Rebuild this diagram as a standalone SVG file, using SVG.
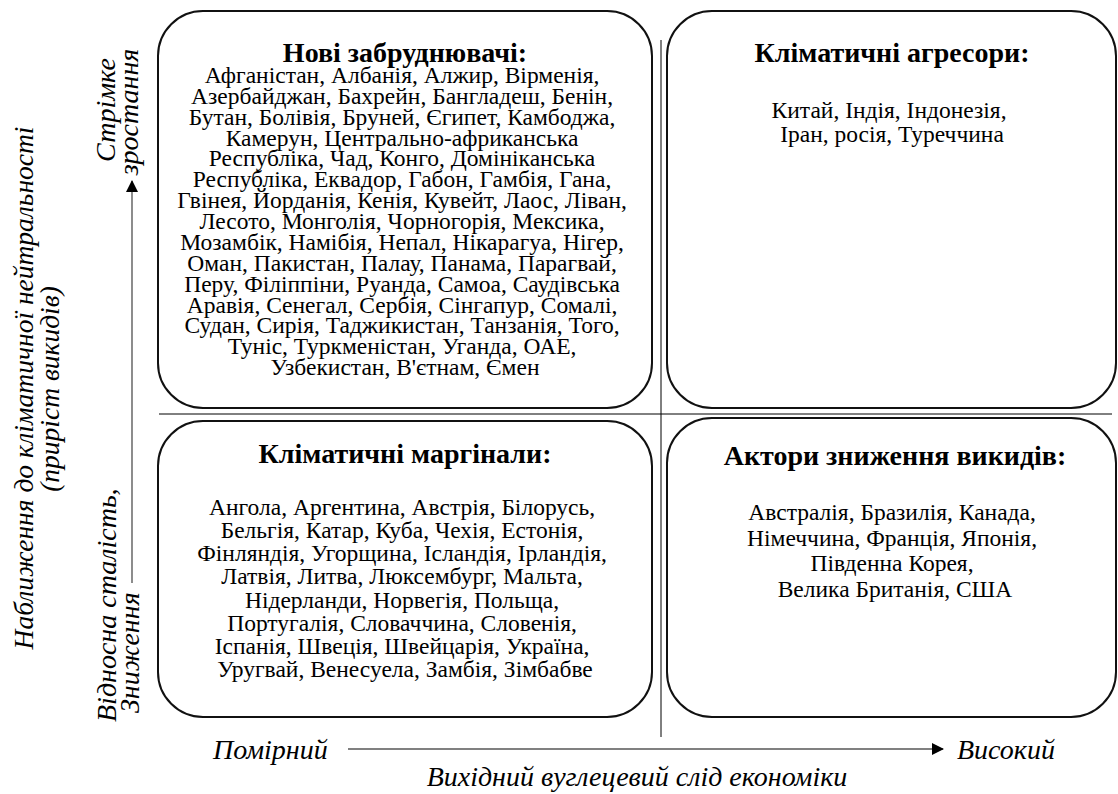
<svg xmlns="http://www.w3.org/2000/svg" width="1118" height="794" viewBox="0 0 1118 794">
<defs>
<style>
text{font-family:'Liberation Serif','Times New Roman',serif;fill:#000}
.box{fill:#fff;stroke:#111;stroke-width:2}
.title{font-size:28px;font-weight:bold;text-anchor:middle}
.body{font-size:23.5px;text-anchor:middle}
.ax{font-style:italic;font-size:28px}
.div{stroke:#000;stroke-width:1;fill:none}
.axis{stroke:#808080;stroke-width:1.8;fill:none}
</style>
<marker id="ah" markerUnits="userSpaceOnUse" markerWidth="12" markerHeight="12" refX="11" refY="6" orient="auto">
<path d="M0,0 L12,6 L0,12 Z" fill="#000"/>
</marker>
</defs>
<rect width="1118" height="794" fill="#fff"/>
<g id="connectors">
<line class="div" x1="661" y1="40" x2="661" y2="737"/>
<line class="div" x1="159" y1="414" x2="1112" y2="414"/>
<line class="axis" x1="132" y1="583" x2="132" y2="181" marker-end="url(#ah)"/>
<line class="axis" x1="348" y1="749" x2="943" y2="749" marker-end="url(#ah)"/>
</g>
<g id="new-polluters">
<rect class="box" x="158" y="11" width="494" height="397" rx="45" ry="45"/>
<text class="title" x="405" y="62">Нові забруднювачі:</text>
<text class="body">
<tspan x="405" y="83">Афганістан, Албанія, Алжир, Вірменія,</tspan>
<tspan x="405" y="103.9">Азербайджан, Бахрейн, Бангладеш, Бенін,</tspan>
<tspan x="405" y="124.7">Бутан, Болівія, Бруней, Єгипет, Камбоджа,</tspan>
<tspan x="405" y="145.6">Камерун, Центрально-африканська</tspan>
<tspan x="405" y="166.4">Республіка, Чад, Конго, Домініканська</tspan>
<tspan x="405" y="187.3">Республіка, Еквадор, Габон, Гамбія, Гана,</tspan>
<tspan x="405" y="208.2">Гвінея, Йорданія, Кенія, Кувейт, Лаос, Ліван,</tspan>
<tspan x="405" y="229">Лесото, Монголія, Чорногорія, Мексика,</tspan>
<tspan x="405" y="249.9">Мозамбік, Намібія, Непал, Нікарагуа, Нігер,</tspan>
<tspan x="405" y="270.7">Оман, Пакистан, Палау, Панама, Парагвай,</tspan>
<tspan x="405" y="291.6">Перу, Філіппіни, Руанда, Самоа, Саудівська</tspan>
<tspan x="405" y="312.5">Аравія, Сенегал, Сербія, Сінгапур, Сомалі,</tspan>
<tspan x="405" y="333.3">Судан, Сирія, Таджикистан, Танзанія, Того,</tspan>
<tspan x="405" y="354.2">Туніс, Туркменістан, Уганда, ОАЕ,</tspan>
<tspan x="405" y="375">Узбекистан, В'єтнам, Ємен</tspan>
</text>
</g>
<g id="climate-aggressors">
<rect class="box" x="667" y="11" width="449" height="397" rx="45" ry="45"/>
<text class="title" x="892" y="62">Кліматичні агресори:</text>
<text class="body">
<tspan x="892" y="118">Китай, Індія, Індонезія,</tspan>
<tspan x="892" y="142">Іран, росія, Туреччина</tspan>
</text>
</g>
<g id="climate-marginals">
<rect class="box" x="158" y="421" width="494" height="296" rx="45" ry="45"/>
<text class="title" x="405" y="463">Кліматичні маргінали:</text>
<text class="body">
<tspan x="405" y="515">Ангола, Аргентина, Австрія, Білорусь,</tspan>
<tspan x="405" y="538.1">Бельгія, Катар, Куба, Чехія, Естонія,</tspan>
<tspan x="405" y="561.3">Фінляндія, Угорщина, Ісландія, Ірландія,</tspan>
<tspan x="405" y="584.4">Латвія, Литва, Люксембург, Мальта,</tspan>
<tspan x="405" y="607.6">Нідерланди, Норвегія, Польща,</tspan>
<tspan x="405" y="630.7">Португалія, Словаччина, Словенія,</tspan>
<tspan x="405" y="653.9">Іспанія, Швеція, Швейцарія, Україна,</tspan>
<tspan x="405" y="677">Уругвай, Венесуела, Замбія, Зімбабве</tspan>
</text>
</g>
<g id="emission-reducers">
<rect class="box" x="667" y="418" width="449" height="299" rx="45" ry="45"/>
<text class="title" x="895" y="465">Актори зниження викидів:</text>
<text class="body">
<tspan x="895" y="520">Австралія, Бразилія, Канада,</tspan>
<tspan x="895" y="546">Німеччина, Франція, Японія,</tspan>
<tspan x="895" y="571">Південна Корея,</tspan>
<tspan x="895" y="597">Велика Британія, США</tspan>
</text>
</g>
<g id="axis-labels">
<text class="ax" text-anchor="middle" transform="translate(33,388) rotate(-90)" style="font-size:27.5px">Наближення до кліматичної нейтральності</text>
<text class="ax" text-anchor="middle" transform="translate(59,389) rotate(-90)" style="font-size:27.5px">(приріст викидів)</text>
<text class="ax" text-anchor="middle" transform="translate(115,110) rotate(-90)">Стрімке</text>
<text class="ax" text-anchor="middle" transform="translate(138,112) rotate(-90)">зростання</text>
<text class="ax" text-anchor="start" transform="translate(116,722) rotate(-90)">Відносна сталість,</text>
<text class="ax" text-anchor="start" transform="translate(139,713) rotate(-90)">Зниження</text>
<text class="ax" x="213" y="759">Помірний</text>
<text class="ax" x="957" y="759">Високий</text>
<text class="ax" text-anchor="middle" x="637" y="786">Вихідний вуглецевий слід економіки</text>
</g>
</svg>
